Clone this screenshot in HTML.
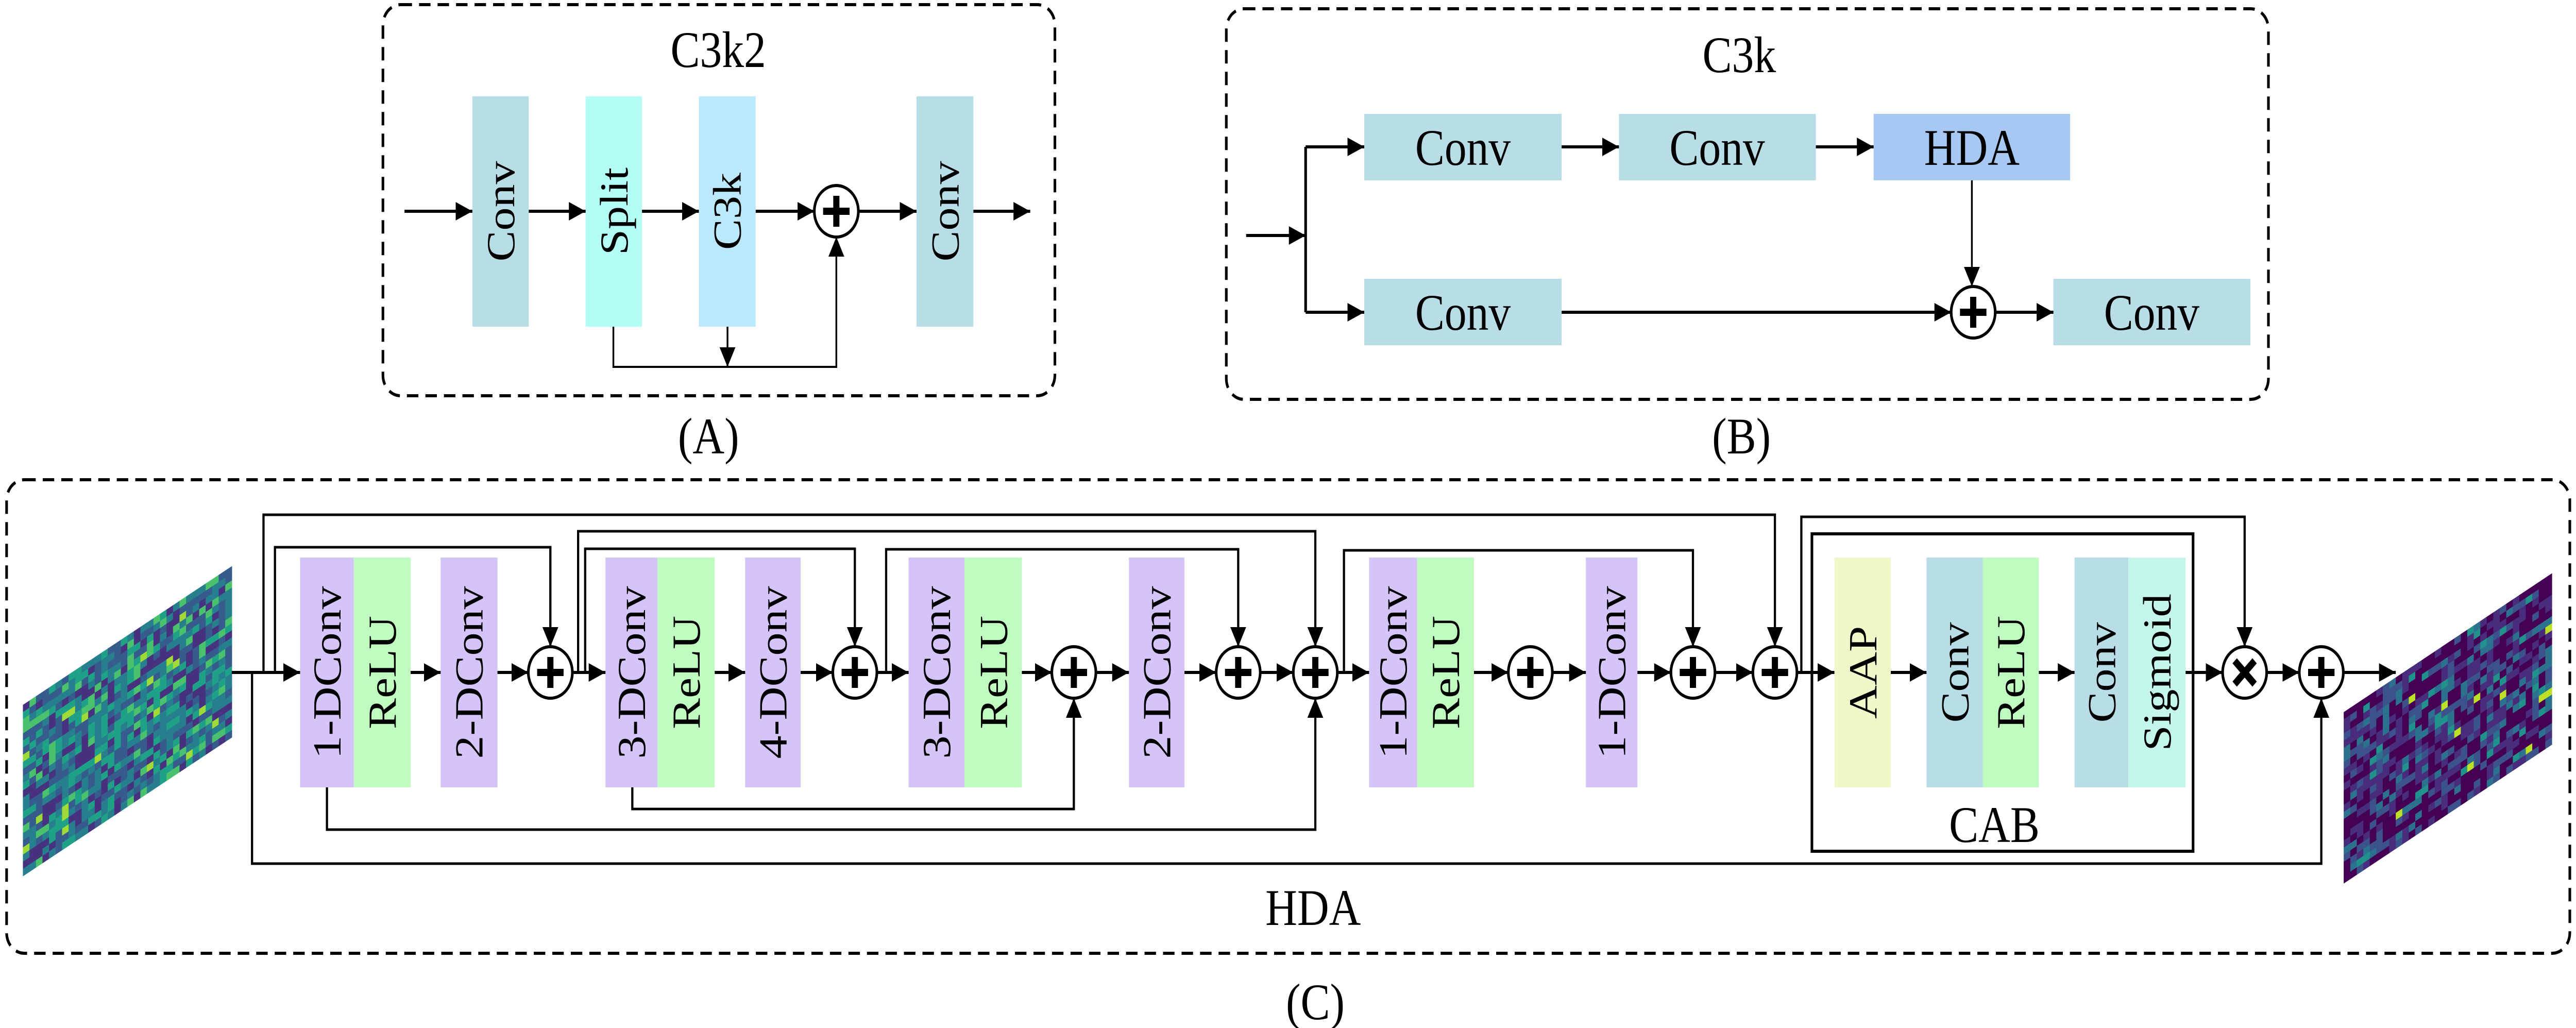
<!DOCTYPE html>
<html><head><meta charset="utf-8"><style>
html,body{margin:0;padding:0;background:#fff;width:100%;height:100%;overflow:hidden}
svg{display:block;position:absolute;left:0;top:0;width:100vw;height:100vh}
text{font-family:"Liberation Serif",serif;fill:#000}
</style></head><body>
<svg id="s" xmlns="http://www.w3.org/2000/svg" viewBox="0 0 5846 1995" preserveAspectRatio="none">
<defs>
<marker id="a" markerUnits="userSpaceOnUse" markerWidth="40" markerHeight="40" refX="38" refY="18" orient="auto"><path d="M0,0 L38,18 L0,36 z" fill="#000"/></marker>
<g id="plus"><circle r="50" fill="#fff" stroke="#000" stroke-width="6"/><rect x="-30" y="-7" width="60" height="14"/><rect x="-7" y="-30" width="14" height="60"/></g>
<g id="times"><circle r="50" fill="#fff" stroke="#000" stroke-width="6"/><g transform="rotate(45)"><rect x="-32" y="-7" width="64" height="14"/><rect x="-7" y="-32" width="14" height="64"/></g></g>
</defs>
<g fill="none" stroke="#000" stroke-width="6" stroke-dasharray="26 16">
<rect x="869" y="9" width="1525" height="759" rx="40"/>
<rect x="2783" y="17" width="2365" height="758" rx="40"/>
<rect x="15" y="931" width="5817" height="919" rx="40"/>
</g>
<g font-size="100" text-anchor="middle">
<text x="1630" y="130">C3k2</text>
<text x="1608" y="880">(A)</text>
<text x="3947" y="140">C3k</text>
<text x="3952" y="880">(B)</text>
<text x="2980" y="1795">HDA</text>
<text x="2985" y="1978">(C)</text>
<text x="4526" y="1634">CAB</text>
</g>
<rect x="1072" y="187" width="128" height="447" fill="#b8dde6"/>
<rect x="1329" y="187" width="128" height="447" fill="#b3fff6"/>
<rect x="1586" y="187" width="129" height="447" fill="#bbe8fb"/>
<rect x="2080" y="187" width="129" height="447" fill="#b8dde6"/>
<g font-size="90" text-anchor="middle">
<text transform="translate(1136,410) rotate(-90)" y="31">Conv</text>
<text transform="translate(1393,410) rotate(-90)" y="31">Split</text>
<text transform="translate(1650,410) rotate(-90)" y="31">C3k</text>
<text transform="translate(2144,410) rotate(-90)" y="31">Conv</text>
</g>
<g stroke="#000" stroke-width="6" fill="none" marker-end="url(#a)">
<path d="M918,410H1072"/><path d="M1200,410H1329"/><path d="M1457,410H1586"/><path d="M1715,410H1848"/><path d="M1948,410H2080"/><path d="M2209,410H2338"/>
</g>
<g stroke="#000" stroke-width="4" fill="none">
<path d="M1392,634V712H1898V460" marker-end="url(#a)"/>
<path d="M1651,634V712" marker-end="url(#a)"/>
</g>
<use href="#plus" x="1898" y="410"/>
<rect x="3096" y="221" width="448" height="129" fill="#b8dde6"/>
<rect x="3674" y="221" width="447" height="129" fill="#b8dde6"/>
<rect x="4252" y="221" width="446" height="129" fill="#a8c8f4"/>
<rect x="3096" y="541" width="448" height="129" fill="#b8dde6"/>
<rect x="4660" y="541" width="447" height="129" fill="#b8dde6"/>
<g font-size="100" text-anchor="middle">
<text x="3320" y="320">Conv</text><text x="3897" y="320">Conv</text><text x="4475" y="320">HDA</text>
<text x="3320" y="640">Conv</text><text x="4883" y="640">Conv</text>
</g>
<g stroke="#000" stroke-width="6" fill="none">
<path d="M2828,457H2963" marker-end="url(#a)"/>
<path d="M2963,285V606"/>
<path d="M2963,285H3096" marker-end="url(#a)"/>
<path d="M2963,606H3096" marker-end="url(#a)"/>
<path d="M3544,285H3674" marker-end="url(#a)"/>
<path d="M4121,285H4252" marker-end="url(#a)"/>
<path d="M4475,350V556" stroke-width="4" marker-end="url(#a)"/>
<path d="M3544,606H4428" marker-end="url(#a)"/>
<path d="M4528,606H4660" marker-end="url(#a)"/>
</g>
<use href="#plus" x="4478" y="606"/>
<polygon points="52,1368 526,1099 526,1431 52,1700" fill="#2a788e"/>
<g id="h1" transform="matrix(14.81,-8.41,0,13.83,52,1368)"></g>
<polygon points="5319,1382 5791,1113 5791,1441 5319,1714" fill="#3b3f87"/>
<g id="h2" transform="matrix(14.75,-8.41,0,13.83,5319,1382)"></g>
<g>
<rect x="681" y="1082" width="122" height="446" fill="#d4c4f8"/><rect x="803" y="1082" width="129" height="446" fill="#c0fcc0"/>
<rect x="1000" y="1082" width="129" height="446" fill="#d4c4f8"/>
<rect x="1374" y="1082" width="118" height="446" fill="#d4c4f8"/><rect x="1492" y="1082" width="130" height="446" fill="#c0fcc0"/>
<rect x="1691" y="1082" width="126" height="446" fill="#d4c4f8"/>
<rect x="2062" y="1082" width="127" height="446" fill="#d4c4f8"/><rect x="2189" y="1082" width="130" height="446" fill="#c0fcc0"/>
<rect x="2562" y="1082" width="126" height="446" fill="#d4c4f8"/>
<rect x="3107" y="1082" width="109" height="446" fill="#d4c4f8"/><rect x="3216" y="1082" width="129" height="446" fill="#c0fcc0"/>
<rect x="3599" y="1082" width="117" height="446" fill="#d4c4f8"/>
<rect x="4163" y="1082" width="128" height="446" fill="#eef8c8"/>
<rect x="4372" y="1082" width="128" height="446" fill="#b8dde6"/><rect x="4500" y="1082" width="127" height="446" fill="#c0fcc0"/>
<rect x="4708" y="1082" width="122" height="446" fill="#b8dde6"/><rect x="4830" y="1082" width="130" height="446" fill="#c4f6ec"/>
</g>
<g font-size="90" text-anchor="middle">
<text transform="translate(742,1305) rotate(-90)" y="31">1-DConv</text>
<text transform="translate(867,1305) rotate(-90)" y="31">ReLU</text>
<text transform="translate(1064,1305) rotate(-90)" y="31">2-DConv</text>
<text transform="translate(1433,1305) rotate(-90)" y="31">3-DConv</text>
<text transform="translate(1557,1305) rotate(-90)" y="31">ReLU</text>
<text transform="translate(1754,1305) rotate(-90)" y="31">4-DConv</text>
<text transform="translate(2125,1305) rotate(-90)" y="31">3-DConv</text>
<text transform="translate(2254,1305) rotate(-90)" y="31">ReLU</text>
<text transform="translate(2625,1305) rotate(-90)" y="31">2-DConv</text>
<text transform="translate(3161,1305) rotate(-90)" y="31">1-DConv</text>
<text transform="translate(3280,1305) rotate(-90)" y="31">ReLU</text>
<text transform="translate(3657,1305) rotate(-90)" y="31">1-DConv</text>
<text transform="translate(4227,1305) rotate(-90)" y="31">AAP</text>
<text transform="translate(4436,1305) rotate(-90)" y="31">Conv</text>
<text transform="translate(4563,1305) rotate(-90)" y="31">ReLU</text>
<text transform="translate(4769,1305) rotate(-90)" y="31">Conv</text>
<text transform="translate(4895,1305) rotate(-90)" y="31">Sigmoid</text>
</g>
<rect x="4112" y="1036" width="865" height="616" fill="none" stroke="#000" stroke-width="6"/>
<g stroke="#000" stroke-width="6" fill="none" marker-end="url(#a)">
<path d="M526,1305H681"/><path d="M932,1305H1000"/><path d="M1129,1305H1199"/><path d="M1299,1305H1374"/>
<path d="M1622,1305H1691"/><path d="M1817,1305H1890"/><path d="M1990,1305H2062"/><path d="M2319,1305H2387"/>
<path d="M2487,1305H2562"/><path d="M2688,1305H2760"/><path d="M2860,1305H2935"/><path d="M3035,1305H3107"/>
<path d="M3345,1305H3423"/><path d="M3523,1305H3599"/><path d="M3716,1305H3792"/><path d="M3892,1305H3978"/>
<path d="M4078,1305H4163"/><path d="M4291,1305H4372"/><path d="M4627,1305H4708"/><path d="M4960,1305H5044"/>
<path d="M5144,1305H5218"/><path d="M5318,1305H5437"/>
</g>
<g stroke="#000" stroke-width="5" fill="none" marker-end="url(#a)">
<path d="M598,1305V999H4028V1255"/>
<path d="M624,1305V1062H1249V1255"/>
<path d="M1312,1305V1031H2985V1255"/>
<path d="M1328,1305V1065H1940V1255"/>
<path d="M2011,1305V1066H2810V1255"/>
<path d="M3050,1305V1068H3842V1255"/>
<path d="M4088,1305V1003H5094V1255"/>
<path d="M1435,1528V1570H2437V1355"/>
<path d="M742,1528V1610H2985V1355"/>
<path d="M572,1305V1676H5268V1355"/>
</g>
<use href="#plus" x="1249" y="1305"/><use href="#plus" x="1940" y="1305"/><use href="#plus" x="2437" y="1305"/>
<use href="#plus" x="2810" y="1305"/><use href="#plus" x="2985" y="1305"/><use href="#plus" x="3473" y="1305"/>
<use href="#plus" x="3842" y="1305"/><use href="#plus" x="4028" y="1305"/><use href="#times" x="5094" y="1305"/>
<use href="#plus" x="5268" y="1305"/>
</svg>
<script>
(function(){
var NS="http://www.w3.org/2000/svg";
var seed=7;function r(){seed=(seed*16807)%2147483647;return seed/2147483647;}
function fill(id){
 var g=document.getElementById(id);
 for(var v=0;v<24;v++)for(var u=0;u<32;u++){
  var x=r(),c;
  if(id=="h1"){c=x<0.2?"#46327e":x<0.45?"#365c8d":x<0.7?"#277f8e":x<0.88?"#1fa187":x<0.97?"#4ac16d":"#a0da39";}
  else{c=x<0.4?"#440154":x<0.65?"#472d7b":x<0.82?"#3b528b":x<0.93?"#2c728e":x<0.98?"#21918c":"#bddf26";}
  var e=document.createElementNS(NS,"rect");
  e.setAttribute("x",u);e.setAttribute("y",v);e.setAttribute("width",1.05);e.setAttribute("height",1.05);e.setAttribute("fill",c);
  g.appendChild(e);
 }
}
fill("h1");fill("h2");
})();
</script>
</body></html>
